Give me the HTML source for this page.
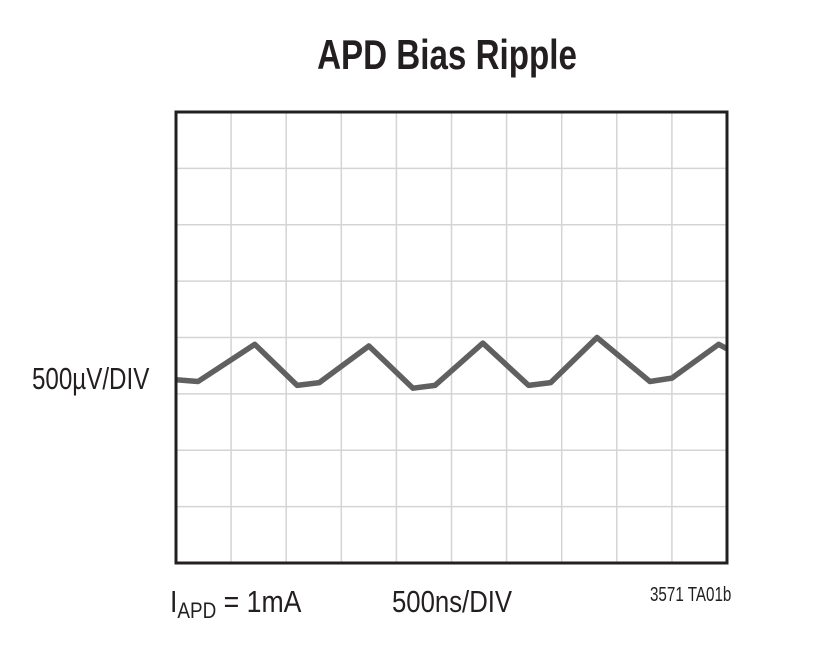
<!DOCTYPE html>
<html><head><meta charset="utf-8"><style>
body{margin:0;background:#fff;}
svg{display:block;font-family:"Liberation Sans",sans-serif;}
</style></head><body>
<svg width="822" height="650">
<text x="447" y="69" text-anchor="middle" font-size="42" font-weight="bold" fill="#231f20" transform="translate(447,0) scale(0.79,1) translate(-447,0)">APD Bias Ripple</text>
<g id="grid"></g>
<path id="trace" fill="none" stroke="#606060" stroke-width="5.5" stroke-linejoin="round"/>
<rect x="176" y="112" width="551" height="451" fill="none" stroke="#231f20" stroke-width="3"/>
<text x="32" y="389" font-size="31" fill="#231f20" transform="translate(32,0) scale(0.78,1) translate(-32,0)">500µV/DIV</text>
<text x="170" y="612" font-size="31" fill="#231f20" transform="translate(170,0) scale(0.86,1) translate(-170,0)">I<tspan font-size="22" dy="6">APD</tspan><tspan dy="-6"> = 1mA</tspan></text>
<text x="392" y="612" font-size="31" fill="#231f20" transform="translate(392,0) scale(0.83,1) translate(-392,0)">500ns/DIV</text>
<text x="650" y="601" font-size="20" fill="#231f20" transform="translate(650,0) scale(0.76,1) translate(-650,0)">3571 TA01b</text>
</svg>
<script>
const timeDiv=[0,0.4,1.43,2.2,2.6,3.5,4.3,4.7,5.57,6.4,6.8,7.64,8.6,9.0,9.85,10];
const voltDiv=[-0.75,-0.78,-0.12,-0.85,-0.8,-0.15,-0.9,-0.85,-0.1,-0.85,-0.8,0.0,-0.78,-0.72,-0.12,-0.2];
const L=176,T=112,W=551,H=451,NX=10,NY=8;
const xs=t=>L+t*W/NX, ys=v=>T+H/2-v*H/NY;
const g=document.getElementById('grid');
for(let i=1;i<NX;i++){const l=document.createElementNS('http://www.w3.org/2000/svg','line');
l.setAttribute('x1',xs(i));l.setAttribute('x2',xs(i));l.setAttribute('y1',T);l.setAttribute('y2',T+H);
l.setAttribute('stroke','#d4d4d4');l.setAttribute('stroke-width','1.5');


g.appendChild(l);}
for(let j=1;j<NY;j++){const y=T+j*H/NY;const l=document.createElementNS('http://www.w3.org/2000/svg','line');
l.setAttribute('x1',L);l.setAttribute('x2',L+W);l.setAttribute('y1',y);l.setAttribute('y2',y);
l.setAttribute('stroke','#d4d4d4');l.setAttribute('stroke-width','1.5');


g.appendChild(l);}
let d='';timeDiv.forEach((t,i)=>{d+=(i?'L':'M')+xs(t).toFixed(1)+','+ys(voltDiv[i]).toFixed(1);});
document.getElementById('trace').setAttribute('d',d);
</script>
</body></html>
